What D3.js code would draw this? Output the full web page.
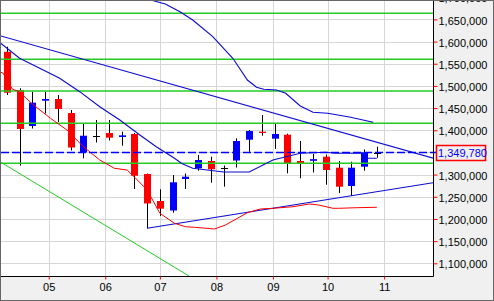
<!DOCTYPE html>
<html>
<head>
<meta charset="utf-8">
<script src="https://cdn.jsdelivr.net/npm/d3@7"></script>
<style>
  html, body { margin: 0; padding: 0; background: #fff; }
  svg { display: block; font-family: "Liberation Sans", Arial, sans-serif; }
</style>
</head>
<body>
<div id="chart"></div>
<script>
// Weekly candles (one per Monday)
var candleDates = ["2013-04-08","2013-04-15","2013-04-22","2013-04-29","2013-05-06","2013-05-13",
  "2013-05-20","2013-05-27","2013-06-03","2013-06-10","2013-06-17","2013-06-24","2013-07-01",
  "2013-07-08","2013-07-15","2013-07-22","2013-07-29","2013-08-05","2013-08-12","2013-08-19",
  "2013-08-26","2013-09-02","2013-09-09","2013-09-16","2013-09-23","2013-09-30","2013-10-07",
  "2013-10-14","2013-10-21","2013-10-28"];
var openValues = [1577000,1490800,1409600,1466700,1470500,1438900,1350300,1386600,1393800,1384800,
  1391600,1301400,1240500,1219100,1290100,1314200,1330700,1314900,1331800,1378700,
  1396800,1381000,1390000,1330700,1331100,1340400,1315600,1274300,1317800,1349780];
var highValues = [1588400,1494600,1487000,1487000,1479500,1445700,1414100,1423100,1423100,1396800,
  1393800,1302500,1266900,1299100,1302500,1344200,1340400,1320500,1381900,1400600,
  1434400,1414100,1392300,1375800,1346500,1345300,1330700,1329100,1356600,1362900];
var lowValues = [1479500,1320100,1404000,1437800,1418600,1354400,1336800,1372400,1376900,1365200,
  1267600,1178900,1206700,1214100,1267600,1308800,1281800,1272700,1316000,1351600,
  1387700,1357800,1303000,1291700,1304800,1277200,1258500,1251800,1308800,1338000];
var closeValues = [1484700,1402900,1462200,1470500,1448000,1361100,1387700,1386600,1383200,1388600,
  1297500,1234900,1223100,1282700,1295300,1332900,1312000,1314900,1375800,1398300,
  1395400,1391600,1325500,1325500,1334800,1310400,1272700,1315600,1350300,1349780];

var lastPrice = 1349780;

// Right axis tick labels (1,350,000 is covered by the price box)
var yTickValues = [1100000,1150000,1200000,1250000,1300000,1400000,1450000,1500000,
  1550000,1600000,1650000,1700000];

// Horizontal green levels
var levelValues = [1663700,1560000,1488500,1415700,1325500];

// Fast blue line
var fastDates = ["2013-04-01","2013-04-15","2013-04-28","2013-05-07","2013-05-18","2013-05-29",
  "2013-06-09","2013-06-20","2013-06-29","2013-07-09","2013-07-13","2013-07-19","2013-08-05",
  "2013-08-19","2013-09-01","2013-09-16","2013-09-30","2013-10-05","2013-10-20","2013-10-22",
  "2013-10-28"];
var fastValues = [1608100,1562300,1535900,1517200,1487000,1453100,1423100,1389300,1362900,1336800,
  1325100,1314200,1305900,1305900,1332900,1348100,1350300,1348100,1348100,1336800,1336800];

// Slow blue line
var slowDates = ["2013-06-20","2013-06-26","2013-07-04","2013-07-12","2013-07-19","2013-07-30",
  "2013-08-10","2013-08-18","2013-08-23","2013-08-27","2013-09-03","2013-09-08","2013-09-16",
  "2013-09-23","2013-10-01","2013-10-13","2013-10-26"];
var slowValues = [1701600,1693700,1684700,1667400,1648600,1611000,1562300,1513300,1496900,1492400,
  1490800,1483400,1454700,1440500,1438300,1429900,1418000];

// Red line
var redDates = ["2013-04-04","2013-04-06","2013-04-11","2013-04-15","2013-04-22","2013-05-02",
  "2013-05-11","2013-05-20","2013-05-29","2013-06-06","2013-06-13","2013-06-17","2013-06-24",
  "2013-07-01","2013-07-09","2013-07-15","2013-07-20","2013-07-31","2013-08-06","2013-08-18",
  "2013-08-25","2013-09-01","2013-09-12","2013-09-21","2013-09-26","2013-10-04","2013-10-07",
  "2013-10-17","2013-10-28"];
var redValues = [1532100,1528500,1493000,1486300,1459200,1426900,1400600,1362900,1332900,1314200,
  1310400,1294600,1265300,1212700,1190200,1182500,1181200,1177400,1186400,1214100,
  1222400,1224000,1227600,1233700,1231500,1224000,1224000,1225400,1226300];

// Straight trend lines (two end points each)
var upperTrendDates = ["2013-04-01","2013-12-05"];
var upperTrendValues = [1617100,1328700];
var lowerTrendDates = ["2013-06-24","2013-12-05"];
var lowerTrendValues = [1178900,1286300];
var greenTrendDates = ["2013-04-01","2013-07-23"];
var greenTrendValues = [1337200,1056300];

// SVG area and plot box
var svgWidth = 494;
var svgHeight = 301;
var plot = { left: 1, top: 1, right: 433, bottom: 276 };

var parseDate = d3.timeParse("%Y-%m-%d");

var svg = d3.select("#chart")
  .append("svg")
  .attr("width", svgWidth)
  .attr("height", svgHeight);

// Scales
var xScale = d3.scaleTime()
  .domain([parseDate(candleDates[0]), parseDate(candleDates[candleDates.length - 1])])
  .range([6.8, 376.8]);
// stretch the domain to the whole plot box so edge months get ticks
xScale.domain([xScale.invert(plot.left), xScale.invert(plot.right)])
  .range([plot.left, plot.right]);

var yScale = d3.scaleLinear()
  .domain([1100000, 1650000])
  .range([263.3, 19.4]);

// Backgrounds
svg.append("rect")
  .attr("width", svgWidth)
  .attr("height", svgHeight)
  .attr("fill", "#f0f0f0");

svg.append("rect")
  .attr("x", plot.left)
  .attr("y", plot.top)
  .attr("width", plot.right - plot.left)
  .attr("height", plot.bottom - plot.top)
  .attr("fill", "#ffffff");

svg.append("clipPath")
  .attr("id", "plotClip")
  .append("rect")
  .attr("x", plot.left)
  .attr("y", plot.top)
  .attr("width", plot.right - plot.left)
  .attr("height", plot.bottom - plot.top);

var plotGroup = svg.append("g").attr("clip-path", "url(#plotClip)");

var monthTicks = xScale.ticks(d3.timeMonth.every(1));
var gridValues = yTickValues.concat([1350000]);

// Grid lines
plotGroup.selectAll(".vgrid")
  .data(monthTicks)
  .enter()
  .append("line")
  .attr("x1", d => Math.round(xScale(d)) + 0.5)
  .attr("x2", d => Math.round(xScale(d)) + 0.5)
  .attr("y1", plot.top)
  .attr("y2", plot.bottom)
  .attr("stroke", "#d6d6d6");

plotGroup.selectAll(".hgrid")
  .data(gridValues)
  .enter()
  .append("line")
  .attr("x1", plot.left)
  .attr("x2", plot.right)
  .attr("y1", d => Math.round(yScale(d)) + 0.5)
  .attr("y2", d => Math.round(yScale(d)) + 0.5)
  .attr("stroke", "#d6d6d6");

// Candles
var candles = candleDates.map(function(d, i) {
  return { date: parseDate(d), open: openValues[i], high: highValues[i],
    low: lowValues[i], close: closeValues[i] };
});

var candleGroup = plotGroup.selectAll(".candle")
  .data(candles)
  .enter()
  .append("g");

candleGroup.append("line")
  .attr("x1", d => Math.round(xScale(d.date)) + 0.5)
  .attr("x2", d => Math.round(xScale(d.date)) + 0.5)
  .attr("y1", d => yScale(d.high))
  .attr("y2", d => yScale(d.low))
  .attr("stroke", "#000");

candleGroup.filter(d => d.open !== d.close)
  .append("rect")
  .attr("x", d => Math.round(xScale(d.date)) - 3)
  .attr("width", 7)
  .attr("y", d => yScale(Math.max(d.open, d.close)))
  .attr("height", d => Math.max(1.3, Math.abs(yScale(d.open) - yScale(d.close))))
  .attr("fill", d => d.close > d.open ? "#0000ff" : "#ff0000");

candleGroup.filter(d => d.open === d.close)
  .append("line")
  .attr("x1", d => Math.round(xScale(d.date)) - 3)
  .attr("x2", d => Math.round(xScale(d.date)) + 4)
  .attr("y1", d => Math.round(yScale(d.open)) + 0.5)
  .attr("y2", d => Math.round(yScale(d.open)) + 0.5)
  .attr("stroke", "#000");

// Lines on top of candles
var lineGen = d3.line()
  .x(d => xScale(d.date))
  .y(d => yScale(d.value));

function toPoints(dates, values) {
  return dates.map((d, i) => ({ date: parseDate(d), value: values[i] }));
}

plotGroup.selectAll(".level")
  .data(levelValues)
  .enter()
  .append("line")
  .attr("x1", plot.left)
  .attr("x2", plot.right)
  .attr("y1", d => yScale(d))
  .attr("y2", d => yScale(d))
  .attr("stroke", "#22cc22")
  .attr("stroke-width", 1.4);

plotGroup.append("path")
  .attr("d", lineGen(toPoints(greenTrendDates, greenTrendValues)))
  .attr("fill", "none")
  .attr("stroke", "#22cc22")
  .attr("stroke-width", 1);

var blueLines = [
  toPoints(upperTrendDates, upperTrendValues),
  toPoints(lowerTrendDates, lowerTrendValues),
  toPoints(fastDates, fastValues),
  toPoints(slowDates, slowValues)
];

plotGroup.selectAll(".blueLine")
  .data(blueLines)
  .enter()
  .append("path")
  .attr("d", d => lineGen(d))
  .attr("fill", "none")
  .attr("stroke", "#0a0ad2")
  .attr("stroke-width", 1.1);

plotGroup.append("path")
  .attr("d", lineGen(toPoints(redDates, redValues)))
  .attr("fill", "none")
  .attr("stroke", "#ff0000")
  .attr("stroke-width", 1);

// Last price dashed line
svg.append("line")
  .attr("x1", plot.left)
  .attr("x2", plot.right + 3)
  .attr("y1", yScale(lastPrice))
  .attr("y2", yScale(lastPrice))
  .attr("stroke", "#0000ff")
  .attr("stroke-width", 1.5)
  .attr("stroke-dasharray", "8,3");

// Plot border
svg.append("path")
  .attr("d", `M${plot.left - 0.5},${plot.bottom + 0.5}V${plot.top - 0.5}H${plot.right + 0.5}V${plot.bottom + 0.5}Z`)
  .attr("fill", "none")
  .attr("stroke", "#000");

// Right axis
var yAxis = svg.append("g")
  .attr("transform", `translate(${plot.right + 0.5}, 0)`)
  .call(d3.axisRight(yScale)
    .tickValues(yTickValues)
    .tickSize(4)
    .tickPadding(1)
    .tickFormat(d3.format(",")));
yAxis.select(".domain").remove();
yAxis.selectAll(".tick line").attr("stroke", "#ff0000");
yAxis.selectAll(".tick text")
  .attr("fill", "#000")
  .attr("dy", "0.42em")
  .style("font-size", "11px")
  .style("font-family", "'Liberation Sans', Arial, sans-serif");

// Bottom axis
var xAxis = svg.append("g")
  .attr("transform", `translate(0, ${plot.bottom + 0.5})`)
  .call(d3.axisBottom(xScale)
    .tickValues(monthTicks)
    .tickSize(3)
    .tickPadding(4)
    .tickFormat(d3.timeFormat("%m")));
xAxis.select(".domain").remove();
xAxis.selectAll(".tick line").attr("stroke", "#ff0000");
xAxis.selectAll(".tick text")
  .attr("fill", "#000")
  .style("font-size", "11px")
  .style("font-family", "'Liberation Sans', Arial, sans-serif");

// Last price box
svg.append("rect")
  .attr("x", 436.5)
  .attr("y", Math.round(yScale(lastPrice)) - 7.5)
  .attr("width", 49)
  .attr("height", 15)
  .attr("fill", "none")
  .attr("stroke", "#ff0000")
  .attr("stroke-width", 1.5);

svg.append("text")
  .attr("x", 438)
  .attr("y", yScale(lastPrice))
  .attr("dy", "0.42em")
  .attr("fill", "#0000ff")
  .style("font-size", "11px")
  .text(d3.format(",")(lastPrice));

// Outer frame
svg.append("rect")
  .attr("x", 0.5)
  .attr("y", 0.5)
  .attr("width", svgWidth - 1)
  .attr("height", svgHeight - 1)
  .attr("fill", "none")
  .attr("stroke", "#666");
</script>
</body>
</html>
